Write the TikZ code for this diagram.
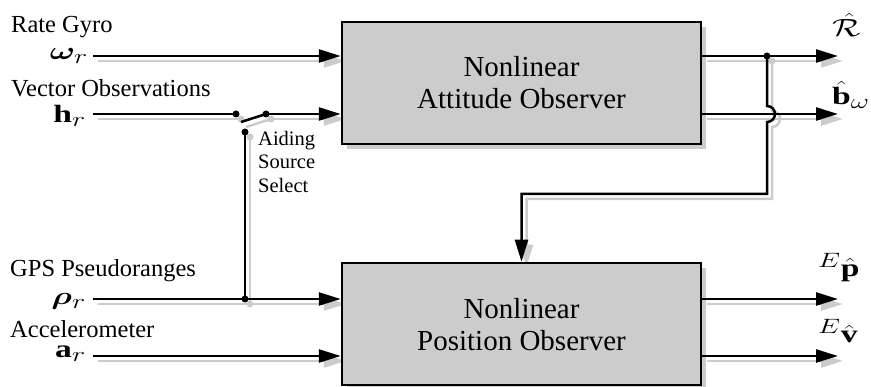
\documentclass[tikz,border=0pt]{standalone}
\usepackage{amsmath,bm}
\usepackage{fontspec}
\setmainfont{Liberation Serif}
\usepackage{graphicx}
\usetikzlibrary{arrows.meta,shadows,calc}
\pgfdeclarelayer{shadow}
\pgfsetlayers{shadow,main}
\definecolor{boxgray}{HTML}{CCCCCC}
\definecolor{shgray}{HTML}{CCCCCC}
% wide lettering used for the signal symbols
\newcommand\hstretch[1]{\scalebox{1.35}[1]{#1}}
% a signal wire: grey offset copy on the shadow layer, black wire on top
\newcommand\wire[2][]{%
  \begin{pgfonlayer}{shadow}\draw[wireshadow,#1] #2;\end{pgfonlayer}%
  \draw[wireline,#1] #2;}
\tikzset{
  wireline/.style={draw=black, line width=2.5pt},
  wireshadow/.style={draw=shgray, line width=2.5pt, transform canvas={shift={(5pt,-5pt)}}},
  headed/.style={-{Triangle[length=22pt,width=13pt]}},
  offshadow/.style={drop shadow={shadow xshift=5pt, shadow yshift=-5pt, fill=shgray, opacity=1}},
  block/.style={draw=black, line width=2.5pt, fill=boxgray, minimum width=359pt,
    minimum height=122pt, inner sep=0pt, offshadow},
  blocktext/.style={inner sep=0pt, font=\fontsize{29}{32}\selectfont},
  dot/.style={circle, fill=black, inner sep=0pt, minimum size=7pt, offshadow},
  lab/.style={inner sep=0pt, font=\fontsize{24.5}{28}\selectfont},
  mth/.style={inner sep=0pt, font=\fontsize{24.88}{30}\selectfont},
}
\begin{document}
\begin{tikzpicture}[x=1pt,y=-1pt]
\useasboundingbox (0,0) rectangle (871,387);

% observer blocks
\node[block] (att) at (521.5,83) {};
\node[block] (pos) at (521.5,324) {};
\node[blocktext] (attT) at ([yshift=-3.6pt]att.center) {\begin{tabular}{@{}c@{}}Nonlinear\\Attitude Observer\end{tabular}};
\node[blocktext] (posT) at ([yshift=-4pt]pos.center) {\begin{tabular}{@{}c@{}}Nonlinear\\Position Observer\end{tabular}};

% input labels
\node[lab, anchor=base west] (gyroL) at (11,33) {Rate Gyro};
\node[mth, anchor=base east] (wL) at (88,60) {\hstretch{$\boldsymbol{\omega}_r$}};
\node[lab, anchor=base west] (vecL) at (11,97) {Vector Observations};
\node[mth, anchor=base east] (hL) at (86,123) {\hstretch{$\mathbf{h}_r$}};
\node[lab, anchor=base west] (gpsL) at (10,277) {GPS Pseudoranges};
\node[mth, anchor=base east] (rhoL) at (86,305) {\hstretch{$\boldsymbol{\rho}_r$}};
\node[lab, anchor=base west] (accL) at (10,338) {Accelerometer};
\node[mth, anchor=base east] (aL) at (86,358) {\hstretch{$\mathbf{a}_r$}};

% output labels
\node[mth, anchor=base west] (Rhat) at (832,37) {\hstretch{$\hat{\mathcal{R}}$}};
\node[mth, anchor=base west] (bhat) at (832,105) {\hstretch{$\hat{\mathbf{b}}_\omega$}};
\node[mth, anchor=base west] (phat) at (818,277) {\hstretch{${}^{E}\hat{\mathbf{p}}$}};
\node[mth, anchor=base west] (vhat) at (818,343) {\hstretch{${}^{E}\hat{\mathbf{v}}$}};

% switch label
\node[inner sep=0pt, anchor=north west, font=\fontsize{20.5}{23.5}\selectfont] (selL) at (258,128.5)
  {\begin{tabular}{@{}l@{}}Aiding\\Source\\Select\end{tabular}};

% wire ends
\coordinate (w0) at (93,56);
\coordinate (h0) at (93,114);
\coordinate (rho0) at (93,299);
\coordinate (a0) at (93,356);
\coordinate (Rtip) at (838,56);
\coordinate (btip) at (838,114);
\coordinate (ptip) at (838,299);
\coordinate (vtip) at (838,356);
\coordinate (blade) at (241,122);
\coordinate (hopTop) at (767,106);
\coordinate (turn) at (767,194);

% junctions and switch contacts
\node[dot] (sL) at (236,114) {};
\node[dot] (sR) at (266,114) {};
\node[dot] (sB) at (245,132) {};
\node[dot] (rhoJ) at (245,299) {};
\node[dot] (jn) at (767,56) {};

% inputs
\wire[headed]{(w0) -- (w0 -| att.west)}
\wire{(h0) -- (sL.center)}
\wire{(blade) -- (sR.center)}
\wire[headed]{(sR.center) -- (h0 -| att.west)}
\wire{(sB.center) -- (rhoJ.center)}
\wire[headed]{(rho0) -- (rho0 -| pos.west)}
\wire[headed]{(a0) -- (a0 -| pos.west)}

% outputs
\wire[headed]{(att.east |- Rtip) -- (Rtip)}
\wire[headed]{(att.east |- btip) -- (btip)}
\wire[headed]{(pos.east |- ptip) -- (ptip)}
\wire[headed]{(pos.east |- vtip) -- (vtip)}

% attitude estimate fed to the position observer, hopping over the bias wire
\wire[headed]{(jn.center) -- (hopTop) arc[start angle=90, end angle=-90, radius=8pt] -- (turn) -| (pos.north)}
\end{tikzpicture}
\end{document}
